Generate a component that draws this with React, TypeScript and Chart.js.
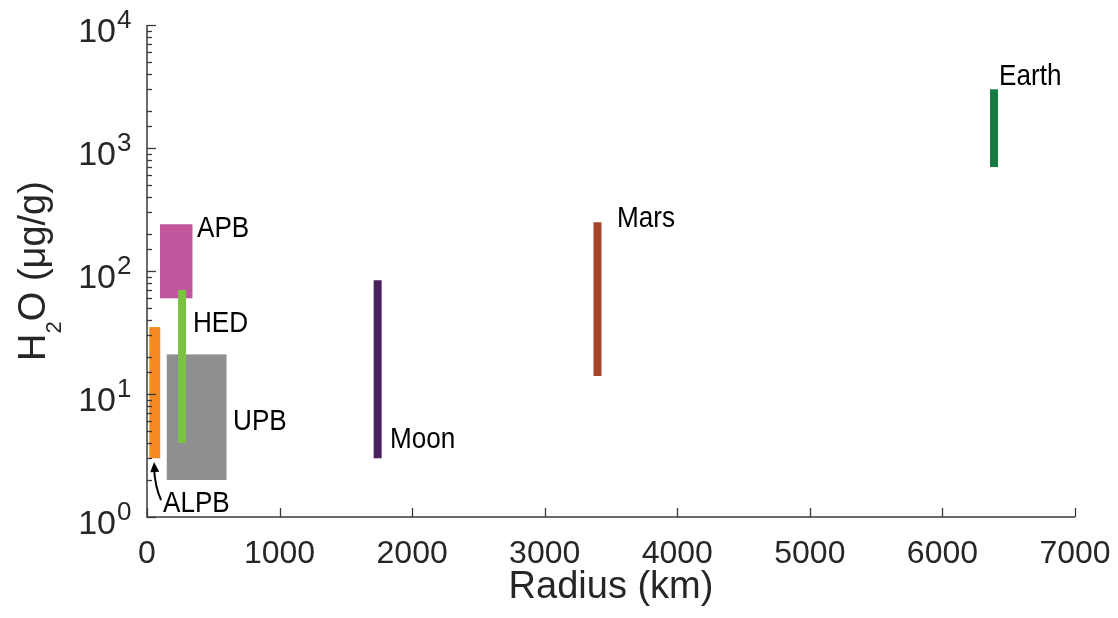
import React, { useEffect, useRef } from 'react';
import { Chart, registerables } from 'chart.js';

Chart.register(...registerables);

const FONT = '"Liberation Sans", Arial, Helvetica, sans-serif';

// Axis ranges
const xMinValue = 0;
const xMaxValue = 7000;
const xStep = 1000;
const yMinValue = 1;
const yMaxValue = 10000;

// Range boxes (radius range x H2O range)
const boxNames = ['ALPB', 'UPB', 'APB'];
const boxXMin = [17, 149, 98];
const boxXMax = [100, 600, 343];
const boxYMin = [3.0, 2.0, 60];
const boxYMax = [35, 21, 240];
const boxColors = ['#F58A22', '#8D8F91', '#C1569D'];

// Thin vertical bars (single radius, H2O range)
const barNames = ['HED', 'Moon', 'Mars', 'Earth'];
const barX = [264, 1740, 3398, 6389];
const barYMin = [4.0, 3.0, 14, 700];
const barYMax = [70, 84, 249, 3000];
const barColors = ['#7BC142', '#4A1F5E', '#A8412A', '#177A40'];

// Text labels (anchor in data units: left edge / baseline)
const labelTexts = ['APB', 'HED', 'UPB', 'ALPB', 'Moon', 'Mars', 'Earth'];
const labelX = [377, 347, 649, 121, 1833, 3545, 6427];
const labelY = [189, 31.9, 5.1, 1.1, 3.64, 228, 3250];

// Arrow from the ALPB label to its bar
const arrowX = [106, 53];
const arrowY = [1.375, 2.8];

const xTitle = 'Radius (km)';
const yTitleParts = ['H', '2', 'O (μg/g)'];

const AXIS_COLOR = '#3a3a3a';
const TEXT_COLOR = '#262626';
const LABEL_SQUEEZE = 0.87;

const customPlugin = {
  id: 'customDraw',
  beforeDatasetsDraw(chart: any) {
    const { ctx } = chart;
    const x = chart.scales.x;
    const y = chart.scales.y;
    ctx.save();
    for (let i = 0; i < boxNames.length; i++) {
      const l = x.getPixelForValue(boxXMin[i]);
      const r = x.getPixelForValue(boxXMax[i]);
      const t = y.getPixelForValue(boxYMax[i]);
      const b = y.getPixelForValue(boxYMin[i]);
      ctx.fillStyle = boxColors[i];
      ctx.fillRect(l, t, r - l, b - t);
    }
    ctx.restore();
  },
  afterDatasetsDraw(chart: any) {
    const { ctx } = chart;
    const x = chart.scales.x;
    const y = chart.scales.y;
    ctx.save();
    ctx.fillStyle = '#000';
    ctx.font = `30px ${FONT}`;
    ctx.textAlign = 'left';
    ctx.textBaseline = 'alphabetic';
    for (let i = 0; i < labelTexts.length; i++) {
      const px = x.getPixelForValue(labelX[i]);
      const py = y.getPixelForValue(labelY[i]);
      ctx.save();
      ctx.translate(px, py);
      ctx.scale(LABEL_SQUEEZE, 1);
      ctx.fillText(labelTexts[i], 0, 0);
      ctx.restore();
    }
    // arrow
    const x0 = x.getPixelForValue(arrowX[0]);
    const y0 = y.getPixelForValue(arrowY[0]);
    const x1 = x.getPixelForValue(arrowX[1]);
    const y1 = y.getPixelForValue(arrowY[1]);
    ctx.strokeStyle = '#000';
    ctx.lineWidth = 2;
    ctx.beginPath();
    ctx.moveTo(x0, y0);
    ctx.quadraticCurveTo(x1 + 1, (y0 + y1) / 2 + 6, x1, y1 + 6);
    ctx.stroke();
    const ang = Math.atan2(-8, -0.6);
    const hl = 10;
    const hw = 4.5;
    ctx.beginPath();
    ctx.moveTo(x1, y1);
    ctx.lineTo(x1 - hl * Math.cos(ang) + hw * Math.sin(ang), y1 - hl * Math.sin(ang) - hw * Math.cos(ang));
    ctx.lineTo(x1 - hl * Math.cos(ang) - hw * Math.sin(ang), y1 - hl * Math.sin(ang) + hw * Math.cos(ang));
    ctx.closePath();
    ctx.fillStyle = '#000';
    ctx.fill();
    ctx.restore();
  },
  afterDraw(chart: any) {
    const { ctx, chartArea } = chart;
    const x = chart.scales.x;
    const y = chart.scales.y;
    const { left, right, top, bottom } = chartArea;
    ctx.save();
    ctx.strokeStyle = AXIS_COLOR;
    ctx.lineWidth = 1.5;
    // axis lines
    ctx.beginPath();
    ctx.moveTo(left, top);
    ctx.lineTo(left, bottom);
    ctx.lineTo(right, bottom);
    ctx.stroke();
    // y ticks (inward)
    ctx.lineWidth = 1.3;
    for (const t of y.ticks) {
      const v = t.value;
      const lg = Math.log10(v);
      const major = Math.abs(lg - Math.round(lg)) < 1e-9;
      const py = Math.round(y.getPixelForValue(v)) + 0.5;
      ctx.beginPath();
      ctx.moveTo(left, py);
      ctx.lineTo(left + (major ? 9 : 5), py);
      ctx.stroke();
    }
    // x ticks (inward)
    for (const t of x.ticks) {
      const px = Math.round(x.getPixelForValue(t.value)) + 0.5;
      ctx.beginPath();
      ctx.moveTo(px, bottom);
      ctx.lineTo(px, bottom - 9);
      ctx.stroke();
    }
    // x tick labels
    ctx.fillStyle = TEXT_COLOR;
    ctx.font = `32px ${FONT}`;
    ctx.textAlign = 'center';
    ctx.textBaseline = 'alphabetic';
    for (const t of x.ticks) {
      ctx.fillText(String(t.value), x.getPixelForValue(t.value), bottom + 46);
    }
    // y tick labels: 10^n
    for (const t of y.ticks) {
      const v = t.value;
      const lg = Math.log10(v);
      if (Math.abs(lg - Math.round(lg)) > 1e-9) continue;
      const py = y.getPixelForValue(v);
      ctx.font = `34px ${FONT}`;
      ctx.textAlign = 'right';
      ctx.fillText('10', left - 31, py + 17);
      ctx.font = `26px ${FONT}`;
      ctx.textAlign = 'left';
      ctx.fillText(String(Math.round(lg)), left - 30, py + 3);
    }
    // x title
    ctx.font = `38px ${FONT}`;
    ctx.textAlign = 'center';
    ctx.fillText(xTitle, (left + right) / 2, 598);
    // y title (rotated, with subscript)
    ctx.font = `38px ${FONT}`;
    const w0 = ctx.measureText(yTitleParts[0]).width;
    const w2 = ctx.measureText(yTitleParts[2]).width;
    ctx.font = `22px ${FONT}`;
    const w1 = ctx.measureText(yTitleParts[1]).width;
    const total = w0 + w1 + w2;
    const cy = (top + bottom) / 2;
    ctx.translate(45, cy + total / 2);
    ctx.rotate(-Math.PI / 2);
    ctx.textAlign = 'left';
    ctx.font = `38px ${FONT}`;
    ctx.fillText(yTitleParts[0], 0, 0);
    ctx.font = `22px ${FONT}`;
    ctx.fillText(yTitleParts[1], w0, 16);
    ctx.font = `38px ${FONT}`;
    ctx.fillText(yTitleParts[2], w0 + w1, 0);
    ctx.restore();
  },
};

export default function App() {
  const canvasRef = useRef<HTMLCanvasElement | null>(null);

  useEffect(() => {
    if (!canvasRef.current) return;
    const datasets = barNames.map((name, i) => ({
      label: name,
      data: [
        { x: barX[i], y: barYMin[i] },
        { x: barX[i], y: barYMax[i] },
      ],
      borderColor: barColors[i],
      backgroundColor: barColors[i],
      borderWidth: 8,
      borderCapStyle: 'butt' as const,
      pointRadius: 0,
      pointHoverRadius: 0,
      fill: false,
      tension: 0,
    }));
    const chart = new Chart(canvasRef.current, {
      type: 'line',
      data: { datasets },
      options: {
        animation: false,
        responsive: true,
        maintainAspectRatio: false,
        events: [],
        layout: { padding: { left: 147, right: 43, top: 25, bottom: 101 } },
        plugins: {
          legend: { display: false },
          tooltip: { enabled: false },
        },
        scales: {
          x: {
            type: 'linear',
            min: xMinValue,
            max: xMaxValue,
            ticks: { display: false, stepSize: xStep },
            grid: { display: false, drawTicks: false },
            border: { display: false },
            title: { display: false },
          },
          y: {
            type: 'logarithmic',
            min: yMinValue,
            max: yMaxValue,
            ticks: { display: false },
            grid: { display: false, drawTicks: false },
            border: { display: false },
            title: { display: false },
          },
        },
      },
      plugins: [customPlugin],
    });
    return () => chart.destroy();
  }, []);

  return (
    <div style={{ position: 'absolute', left: 0, top: 0, width: 1118, height: 618, background: '#fff' }}>
      <canvas ref={canvasRef} />
    </div>
  );
}
